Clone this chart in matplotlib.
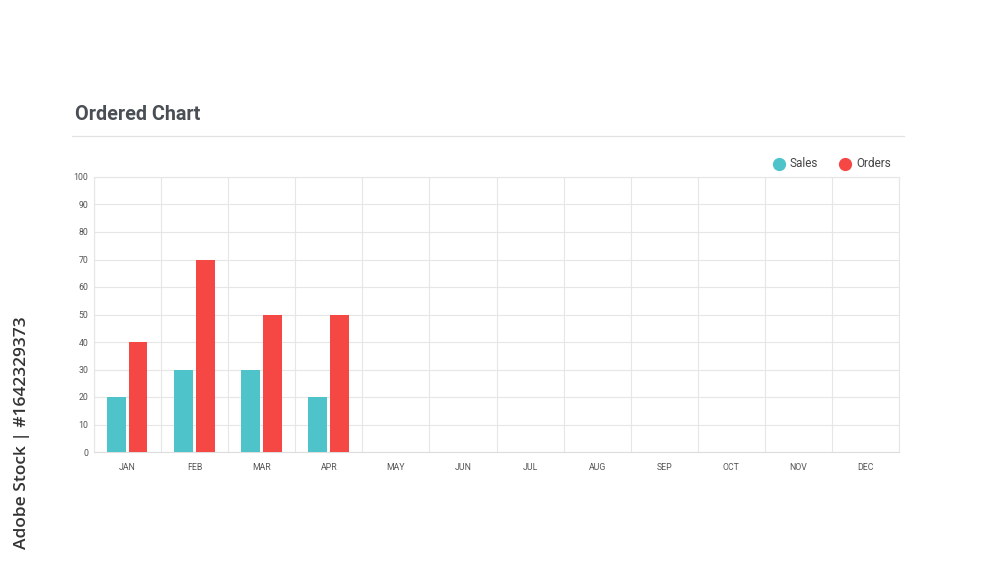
import matplotlib
matplotlib.use("Agg")
import matplotlib.pyplot as plt
from matplotlib.lines import Line2D
import numpy as np

months = ["JAN", "FEB", "MAR", "APR", "MAY", "JUN", "JUL", "AUG", "SEP", "OCT", "NOV", "DEC"]
sales = [20, 30, 30, 20]
orders = [40, 70, 50, 50]
yticks = list(range(0, 101, 10))

SALES_C = "#4fc3ca"
ORDERS_C = "#f54844"
GRID_C = "#e6e6e6"
TEXT_C = "#4a4f55"

plt.rcParams['font.family'] = ['Roboto', 'DejaVu Sans']

W, H = 1000, 562
fig = plt.figure(figsize=(W / 100, H / 100), dpi=100)
fig.patch.set_facecolor("white")

def fx(px):
    return px / W

def fy(py):
    return 1 - py / H

ax = fig.add_axes([fx(94), fy(452), fx(899) - fx(94), fy(177) - fy(452)])
x = np.arange(len(months))
bw = 0.275
ax.bar(x[:len(sales)] - 0.165, sales, width=bw, color=SALES_C, zorder=3)
ax.bar(x[:len(orders)] + 0.16, orders, width=bw, color=ORDERS_C, zorder=3)

ax.set_xlim(-0.5, len(months) - 0.5)
ax.set_ylim(0, 100)
ax.set_yticks(yticks)
ax.set_yticklabels([str(v) for v in yticks], fontsize=6.3, color="#555555")
ax.set_xticks(x)
ax.set_xticklabels(months, fontsize=6.3, color="#555555")
ax.set_xticks(np.arange(len(months) + 1) - 0.5, minor=True)
ax.tick_params(axis="both", which="both", length=0)
ax.tick_params(axis="y", pad=4)
ax.tick_params(axis="x", pad=8)
ax.grid(True, axis="y", color=GRID_C, linewidth=0.8, zorder=0)
ax.grid(True, axis="x", which="minor", color=GRID_C, linewidth=0.8, zorder=0)
ax.grid(False, axis="x", which="major")
for s in ax.spines.values():
    s.set_color(GRID_C)
    s.set_linewidth(0.8)
ax.spines["bottom"].set_color("#dddddd")

# Title and separator
fig.text(fx(75), fy(114.5), "Ordered Chart", fontsize=14.2, fontweight="bold",
         color=TEXT_C, ha="left", va="center")
fig.add_artist(Line2D([fx(72), fx(904)], [fy(136), fy(136)], color="#e3e3e3", linewidth=0.9))

# Legend
for cx, label, c in [(779, "Sales", SALES_C), (845, "Orders", ORDERS_C)]:
    fig.add_artist(Line2D([fx(cx)], [fy(164)], marker="o", markersize=8.5,
                          color=c, linestyle="none"))
    fig.text(fx(cx + 11), fy(164), label, fontsize=8.5, color="#444444",
             ha="left", va="center")

# Vertical stock id text
fig.text(fx(22), fy(433), "Adobe Stock | #1642329373", rotation=90, fontsize=12.5,
         fontweight="semibold", color="#333333", ha="center", va="center",
         family=['Open Sans', 'DejaVu Sans'])

fig.savefig("out.png", dpi=100, facecolor="white")
